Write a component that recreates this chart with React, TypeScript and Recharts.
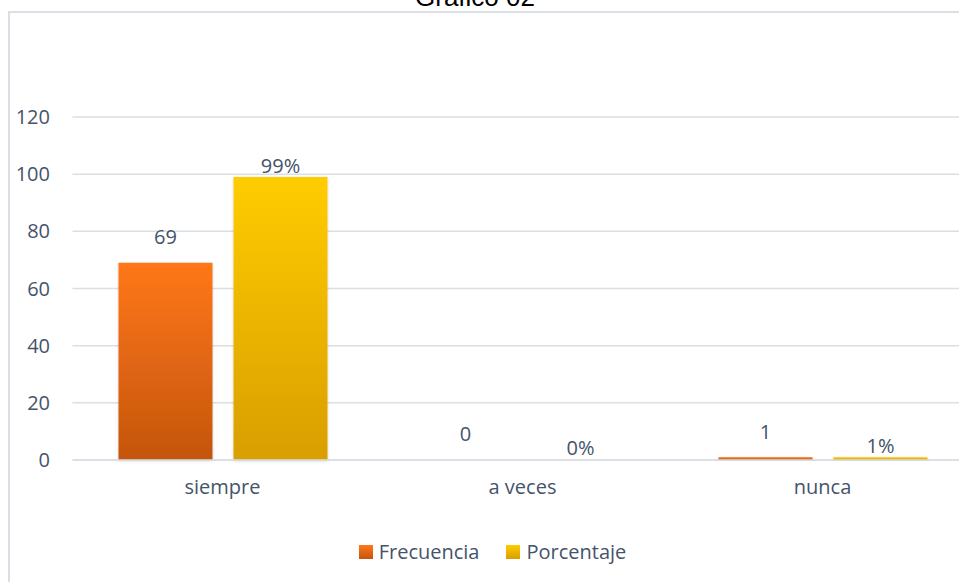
import { BarChart, Bar, XAxis, YAxis, CartesianGrid, Legend, LabelList } from "recharts"

const categories = ["siempre", "a veces", "nunca"]
const frecuencia = [69, 0, 1]
const porcentaje = [99, 0, 1]
const yTicks = [0, 20, 40, 60, 80, 100, 120]

const data = categories.map((name, i) => ({
  name,
  frecuencia: frecuencia[i],
  porcentaje: porcentaje[i],
}))

const FONT = "'Open Sans', sans-serif"
const TEXT = "#44546a"
const GRID = "#dadee5"

const series = [
  { key: "frecuencia", label: "Frecuencia", grad: "gradFrec", top: "#ff7716", bottom: "#c4550f", lift: 26, suffix: "" },
  { key: "porcentaje", label: "Porcentaje", grad: "gradPorc", top: "#ffcc00", bottom: "#d99e00", lift: 12, suffix: "%" },
]

// value label sitting a fixed distance above the bar top
function makeLabel(lift: number, suffix: string) {
  return (props: any) => {
    const { x, y, width, height, value } = props
    const top = Math.min(y, y + height)
    return (
      <text
        x={x + width / 2}
        y={top - lift}
        textAnchor="middle"
        dominantBaseline="central"
        fill={TEXT}
        fontSize={20}
        fontFamily={FONT}
      >
        {value}
        {suffix}
      </text>
    )
  }
}

function LegendBox() {
  return (
    <div style={{ display: "flex", justifyContent: "center", gap: 27, fontFamily: FONT, fontSize: 20, color: TEXT }}>
      {series.map((s) => (
        <div key={s.key} style={{ display: "flex", alignItems: "center", gap: 6 }}>
          <span
            style={{
              width: 14,
              height: 14,
              display: "inline-block",
              background: `linear-gradient(${s.top}, ${s.bottom})`,
            }}
          />
          <span>{s.label}</span>
        </div>
      ))}
    </div>
  )
}

export default function App() {
  return (
    <div style={{ position: "absolute", left: 0, top: 0, width: 959, height: 582, overflow: "hidden", background: "#fff" }}>
      <div
        style={{
          position: "absolute",
          left: 8,
          top: 11,
          width: 1100,
          height: 800,
          border: `2px solid ${GRID}`,
        }}
      />
      <svg style={{ position: "absolute", left: 0, top: 0 }} width={959} height={30}>
        <text x={475} y={6} textAnchor="middle" fontSize={26} fontFamily="'Liberation Sans', Arial, sans-serif" fill="#000">
          Gráfico 02
        </text>
      </svg>
      <div style={{ position: "absolute", left: 0, top: 0 }}>
        <BarChart
          width={990}
          height={600}
          data={data}
          margin={{ top: 117, right: 17.5, left: 0, bottom: 73 }}
          barSize={94}
          barGap={21}
        >
          <defs>
            {series.map((s) => (
              <linearGradient key={s.grad} id={s.grad} x1="0" y1="0" x2="0" y2="1">
                <stop offset="0%" stopColor={s.top} />
                <stop offset="100%" stopColor={s.bottom} />
              </linearGradient>
            ))}
            <filter id="barShadow" x="-10%" y="-10%" width="120%" height="120%">
              <feDropShadow dx="0" dy="1" stdDeviation="1.5" floodColor="#000" floodOpacity="0.18" />
            </filter>
          </defs>
          <CartesianGrid vertical={false} stroke={GRID} strokeWidth={1.5} />
          <XAxis
            dataKey="name"
            axisLine={{ stroke: GRID, strokeWidth: 1.5 }}
            tickLine={false}
            tickSize={0}
            tickMargin={20}
            height={40}
            tick={{ fill: TEXT, fontSize: 20, fontFamily: FONT }}
          />
          <YAxis
            domain={[0, 120]}
            ticks={yTicks}
            width={72.5}
            axisLine={false}
            tickLine={false}
            tickSize={0}
            tickMargin={22.5}
            tick={{ fill: TEXT, fontSize: 20, fontFamily: FONT }}
          />
          <Legend
            content={<LegendBox />}
            wrapperStyle={{ position: "absolute", left: 0, top: 538, width: 985 }}
          />
          {series.map((s) => (
            <Bar
              key={s.key}
              dataKey={s.key}
              name={s.label}
              fill={`url(#${s.grad})`}
              filter="url(#barShadow)"
              minPointSize={0.01}
              isAnimationActive={false}
            >
              <LabelList dataKey={s.key} content={makeLabel(s.lift, s.suffix)} />
            </Bar>
          ))}
        </BarChart>
      </div>
    </div>
  )
}
